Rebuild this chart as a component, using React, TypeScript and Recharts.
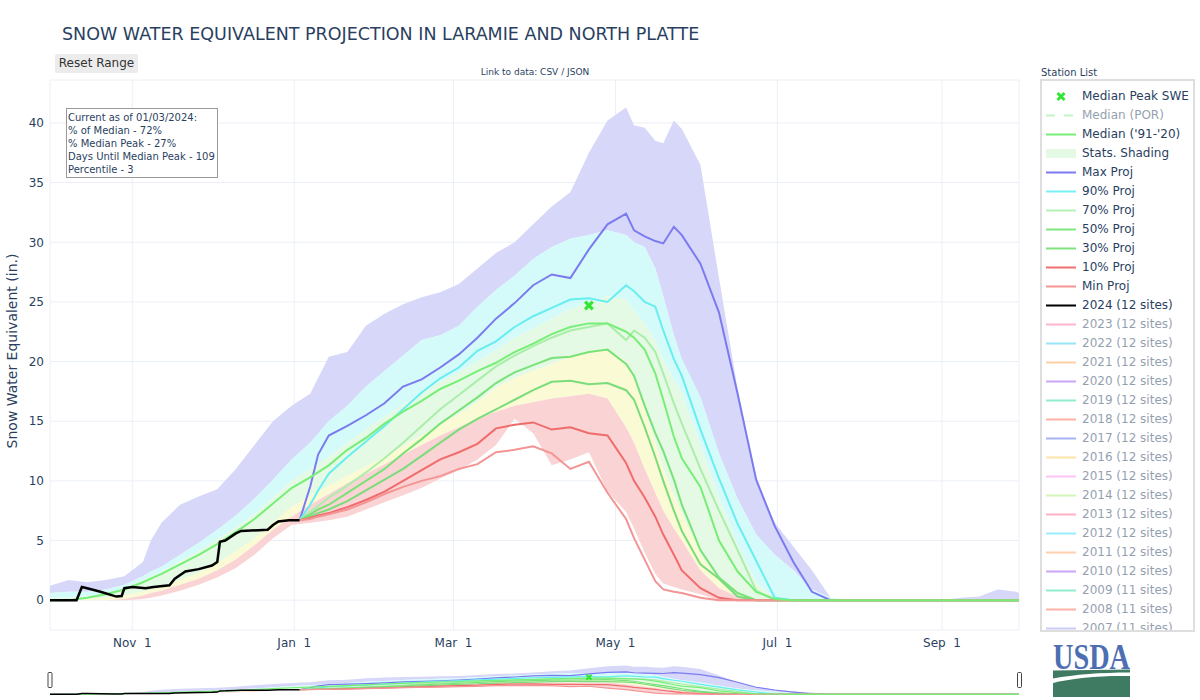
import React from 'react';
import { ComposedChart, Area, Line, Scatter, XAxis, YAxis, CartesianGrid } from 'recharts';

const FONT = '"DejaVu Sans", Verdana, sans-serif';
const INK = '#2a3f5f';

// x = days since Oct 1, 2023 (water year 2024)
const tickDays = [31, 92, 152, 213, 274, 336];
const tickLabels = ['Nov \u00a01', 'Jan \u00a01', 'Mar \u00a01', 'May \u00a01', 'Jul \u00a01', 'Sep \u00a01'];
const sweTicks = [0, 5, 10, 15, 20, 25, 30, 35, 40];

// historical stats (in.), roughly weekly
const statDays = [0, 7, 14, 21, 28, 35, 38, 42, 49, 56, 63, 70, 77, 84, 91, 98, 105, 112, 119, 126, 133, 140, 147, 154, 161, 168, 175, 182, 189, 196, 203, 210, 217, 220, 224, 228, 231, 235, 238, 245, 252, 259, 266, 273, 280, 287, 294, 301, 308, 315, 322, 329, 336, 343, 350, 357, 364, 365];
const statMax = [1.2, 1.7, 1.5, 1.7, 2.0, 3.2, 5.0, 6.5, 8.0, 8.7, 9.3, 11.0, 13.0, 15.0, 16.3, 17.3, 20.4, 20.8, 23.0, 24.0, 24.8, 25.4, 25.8, 26.5, 27.8, 29.1, 30.0, 31.5, 33.0, 34.2, 37.5, 40.2, 41.3, 39.8, 39.6, 38.5, 38.3, 40.2, 39.5, 36.5, 27.0, 17.7, 10.1, 6.5, 4.5, 2.5, 0.2, 0, 0, 0, 0, 0, 0, 0.2, 0.3, 0.9, 0.7, 0.6];
const stat90 = [0.6, 0.7, 0.7, 0.9, 1.3, 2.0, 2.4, 2.8, 3.8, 4.8, 5.9, 7.1, 8.5, 10.1, 11.8, 13.2, 15.0, 16.3, 17.9, 19.2, 20.5, 21.8, 22.2, 23.0, 24.6, 26.0, 27.2, 28.6, 29.6, 30.3, 30.6, 31.0, 30.6, 30.0, 29.6, 27.8, 25.5, 22.2, 20.2, 17.0, 12.3, 8.5, 5.5, 3.8, 2.5, 0.9, 0.2, 0, 0, 0, 0, 0, 0, 0, 0, 0, 0, 0];
const stat70 = [0.2, 0.2, 0.3, 0.5, 1.0, 1.7, 2.0, 2.4, 3.3, 4.1, 5.1, 6.1, 7.2, 8.6, 10.0, 11.0, 12.0, 13.2, 14.3, 15.4, 16.4, 17.4, 18.3, 19.1, 20.0, 21.0, 22.0, 22.8, 23.6, 24.4, 24.9, 25.5, 25.2, 24.3, 23.2, 21.8, 20.2, 18.5, 17.3, 13.0, 8.6, 4.6, 1.5, 0.2, 0, 0, 0, 0, 0, 0, 0, 0, 0, 0, 0, 0, 0, 0];
const stat30 = [0, 0, 0.1, 0.2, 0.4, 0.7, 0.9, 1.1, 1.7, 2.3, 3.1, 4.1, 5.2, 6.5, 7.8, 8.7, 9.6, 10.4, 11.2, 12.0, 12.9, 13.8, 14.7, 15.6, 16.6, 17.8, 18.6, 19.2, 19.8, 20.4, 20.9, 21.1, 20.0, 18.5, 16.0, 13.2, 11.0, 8.8, 7.3, 3.8, 1.6, 0.3, 0, 0, 0, 0, 0, 0, 0, 0, 0, 0, 0, 0, 0, 0, 0, 0];
const stat10 = [0, 0, 0, 0, 0.1, 0.4, 0.6, 0.8, 1.3, 1.8, 2.5, 3.4, 4.6, 5.9, 7.0, 8.0, 8.9, 9.8, 10.6, 11.4, 12.2, 13.0, 13.8, 14.5, 15.2, 15.8, 16.3, 16.6, 16.9, 17.1, 17.3, 16.9, 14.5, 13.2, 11.0, 9.0, 7.5, 6.0, 5.0, 2.5, 1.0, 0.3, 0, 0, 0, 0, 0, 0, 0, 0, 0, 0, 0, 0, 0, 0, 0, 0];
const statMin = [0, 0, 0, 0, 0, 0.1, 0.2, 0.4, 0.8, 1.3, 1.9, 2.7, 3.8, 5.2, 6.3, 6.5, 6.7, 7.0, 7.6, 8.2, 8.8, 9.4, 10.2, 10.9, 11.8, 13.0, 15.2, 14.0, 11.3, 11.8, 12.4, 9.1, 7.4, 6.0, 4.0, 2.2, 1.4, 1.1, 0.9, 0.5, 0, 0, 0, 0, 0, 0, 0, 0, 0, 0, 0, 0, 0, 0, 0, 0, 0, 0];
const median9120 = [0, 0, 0.2, 0.5, 0.9, 1.5, 1.8, 2.2, 3.0, 3.8, 4.7, 5.7, 6.8, 8.1, 9.4, 10.3, 11.3, 12.6, 13.6, 14.8, 15.8, 16.7, 17.7, 18.4, 19.2, 19.9, 20.8, 21.5, 22.3, 22.9, 23.2, 23.2, 22.5, 22.0, 21.0, 19.0, 16.8, 13.7, 11.9, 9.5, 5.0, 2.4, 0.7, 0.1, 0, 0, 0, 0, 0, 0, 0, 0, 0, 0, 0, 0, 0, 0];

// projections from Jan 3
const projDays = [94, 98, 101, 105, 112, 119, 126, 133, 140, 147, 154, 161, 168, 175, 182, 189, 196, 203, 210, 217, 220, 224, 228, 231, 235, 238, 245, 252, 259, 266, 273, 280, 287, 294, 365];
const projMax = [6.7, 9.5, 12.2, 13.8, 14.6, 15.5, 16.5, 17.9, 18.5, 19.5, 20.6, 22.0, 23.6, 24.9, 26.4, 27.3, 27.0, 29.4, 31.5, 32.4, 31.0, 30.5, 30.1, 29.9, 31.3, 30.6, 28.2, 24.1, 17.3, 10.1, 6.2, 3.2, 0.7, 0, 0];
const proj90 = [6.7, 8.0, 9.2, 10.6, 12.0, 13.3, 14.6, 16.0, 17.4, 18.6, 19.5, 20.9, 21.7, 22.9, 23.8, 24.5, 25.2, 25.3, 25.0, 26.4, 25.9, 25.0, 24.6, 22.6, 20.2, 18.8, 14.3, 10.2, 6.4, 3.3, 0.2, 0, 0, 0, 0];
const proj70 = [6.7, 7.4, 7.9, 8.6, 9.6, 10.7, 11.9, 13.2, 14.6, 16.0, 17.2, 18.4, 19.6, 20.5, 21.3, 22.0, 22.6, 22.9, 23.2, 21.8, 22.6, 22.0, 20.8, 19.0, 16.5, 14.8, 11.0, 7.5, 4.2, 0.8, 0, 0, 0, 0, 0];
const proj50 = [6.7, 7.2, 7.6, 8.0, 9.0, 10.0, 11.0, 12.3, 13.5, 14.8, 15.9, 17.0, 18.2, 19.1, 19.7, 20.3, 20.4, 20.8, 21.0, 19.8, 18.8, 16.3, 14.0, 12.5, 10.1, 8.0, 4.2, 1.9, 0.6, 0, 0, 0, 0, 0, 0];
const proj30 = [6.7, 7.0, 7.3, 7.6, 8.3, 9.2, 10.1, 11.0, 12.1, 13.2, 14.3, 15.2, 16.0, 16.8, 17.6, 18.3, 18.4, 18.1, 18.2, 17.6, 16.8, 14.5, 12.0, 10.0, 7.5, 5.8, 3.0, 1.8, 0.3, 0, 0, 0, 0, 0, 0];
const proj10 = [6.7, 6.9, 7.1, 7.3, 7.8, 8.4, 9.1, 10.0, 10.9, 11.8, 12.4, 13.1, 14.4, 14.7, 14.9, 14.3, 14.5, 14.0, 13.8, 11.5, 10.0, 8.6, 7.0, 5.5, 3.8, 2.5, 1.0, 0.2, 0, 0, 0, 0, 0, 0, 0];
const projMin = [6.7, 6.8, 7.0, 7.2, 7.6, 8.2, 8.9, 9.5, 10.0, 10.4, 11.0, 11.4, 12.4, 12.6, 12.9, 12.3, 11.0, 11.6, 9.0, 6.8, 5.2, 3.4, 1.6, 0.9, 0.7, 0.6, 0.2, 0, 0, 0, 0, 0, 0, 0, 0];

// observed WY2024 (12 sites)
const obsDays = [0, 10, 12, 14, 19, 25, 27, 28, 31, 36, 39, 45, 47, 51, 56, 61, 63, 64, 66, 70, 72, 82, 84, 86, 90, 94];
const obs2024 = [0, 0, 1.1, 1.0, 0.7, 0.3, 0.35, 1.0, 1.1, 1.0, 1.1, 1.25, 1.8, 2.4, 2.6, 2.9, 3.2, 4.9, 5.0, 5.6, 5.8, 5.9, 6.3, 6.6, 6.7, 6.7];

const medianPeakDay = 203;
const medianPeakSwe = 24.7;

const annotationLines = ['Current as of 01/03/2024:', '% of Median - 72%', '% Median Peak - 27%', 'Days Until Median Peak - 109', 'Percentile - 3'];

const legendItems = [
  { name: 'Median Peak SWE', color: '#33e633', kind: 'x', hidden: false },
  { name: 'Median (POR)', color: '#88ee88', kind: 'dash', hidden: true },
  { name: "Median ('91-'20)", color: '#77ee77', kind: 'line', hidden: false },
  { name: 'Stats. Shading', color: '#e4fae4', kind: 'band', hidden: false },
  { name: 'Max Proj', color: '#7b7bef', kind: 'line', hidden: false },
  { name: '90% Proj', color: '#77f0f2', kind: 'line', hidden: false },
  { name: '70% Proj', color: '#b5f0b5', kind: 'line', hidden: false },
  { name: '50% Proj', color: '#7fe67f', kind: 'line', hidden: false },
  { name: '30% Proj', color: '#7fe27f', kind: 'line', hidden: false },
  { name: '10% Proj', color: '#f07070', kind: 'line', hidden: false },
  { name: 'Min Proj', color: '#f49494', kind: 'line', hidden: false },
  { name: '2024 (12 sites)', color: '#000000', kind: 'line', hidden: false },
  { name: '2023 (12 sites)', color: '#ff6f9f', kind: 'line', hidden: true },
  { name: '2022 (12 sites)', color: '#33ccee', kind: 'line', hidden: true },
  { name: '2021 (12 sites)', color: '#ffa050', kind: 'line', hidden: true },
  { name: '2020 (12 sites)', color: '#9b4ff0', kind: 'line', hidden: true },
  { name: '2019 (12 sites)', color: '#22dd99', kind: 'line', hidden: true },
  { name: '2018 (12 sites)', color: '#ff6650', kind: 'line', hidden: true },
  { name: '2017 (12 sites)', color: '#5566ee', kind: 'line', hidden: true },
  { name: '2016 (12 sites)', color: '#ffcc55', kind: 'line', hidden: true },
  { name: '2015 (12 sites)', color: '#ff88ee', kind: 'line', hidden: true },
  { name: '2014 (12 sites)', color: '#aaee77', kind: 'line', hidden: true },
  { name: '2013 (12 sites)', color: '#ff6688', kind: 'line', hidden: true },
  { name: '2012 (12 sites)', color: '#33ddff', kind: 'line', hidden: true },
  { name: '2011 (12 sites)', color: '#ffa060', kind: 'line', hidden: true },
  { name: '2010 (12 sites)', color: '#9b4ff0', kind: 'line', hidden: true },
  { name: '2009 (11 sites)', color: '#22dd99', kind: 'line', hidden: true },
  { name: '2008 (11 sites)', color: '#ff6650', kind: 'line', hidden: true },
  { name: '2007 (11 sites)', color: '#9999ee', kind: 'line', hidden: true },
];

const statRows = statDays.map((day, i) => ({
  day,
  max: statMax[i],
  p90: stat90[i],
  p70: stat70[i],
  p30: stat30[i],
  p10: stat10[i],
  min: statMin[i],
  median: median9120[i],
}));
const projRows = projDays.map((day, i) => ({
  day,
  max: projMax[i],
  p90: proj90[i],
  p70: proj70[i],
  p50: proj50[i],
  p30: proj30[i],
  p10: proj10[i],
  min: projMin[i],
}));
const obsRows = obsDays.map((day, i) => ({ day, swe: obs2024[i] }));
const peakRows = [{ day: medianPeakDay, swe: medianPeakSwe }];

const fmtDay = (v: number) => tickLabels[tickDays.indexOf(v)] ?? '';

const xMark = (h: number) => (p: any) => {
  const { cx, cy } = p;
  if (cx == null || cy == null) return <g />;
  return (
    <g stroke="#33e633" strokeWidth={h * 0.85}>
      <line x1={cx - h} y1={cy - h} x2={cx + h} y2={cy + h} />
      <line x1={cx - h} y1={cy + h} x2={cx + h} y2={cy - h} />
    </g>
  );
};

function series(mini: boolean) {
  const w = mini ? 1.2 : 2;
  const band = (key: string, lo: string, hi: string, fill: string) => (
    <Area
      key={key}
      dataKey={(r: any) => [r[lo], r[hi]]}
      type="linear"
      stroke="none"
      fill={fill}
      fillOpacity={1}
      dot={false}
      activeDot={false}
      isAnimationActive={false}
    />
  );
  const proj = (key: string, color: string) => (
    <Line
      key={'p' + key}
      data={projRows}
      dataKey={key}
      type="linear"
      stroke={color}
      strokeWidth={w}
      dot={false}
      activeDot={false}
      isAnimationActive={false}
    />
  );
  return [
    band('b1', 'p90', 'max', '#d7d7fa'),
    band('b2', 'p70', 'p90', '#d4fafa'),
    band('b3', 'p30', 'p70', '#e4fae4'),
    band('b4', 'p10', 'p30', '#fafad4'),
    band('b5', 'min', 'p10', '#fad4d4'),
    proj('max', '#7b7bef'),
    proj('p90', '#66eef0'),
    proj('p70', '#aaeeaa'),
    proj('p50', '#77e277'),
    proj('p30', '#7bdc7b'),
    proj('p10', '#f06c6c'),
    proj('min', '#f49494'),
    <Line
      key="median"
      dataKey="median"
      type="linear"
      stroke="#77ee77"
      strokeWidth={w}
      dot={false}
      activeDot={false}
      isAnimationActive={false}
    />,
    <Line
      key="obs"
      data={obsRows}
      dataKey="swe"
      type="linear"
      stroke="#000000"
      strokeWidth={mini ? 1.5 : 2.5}
      dot={false}
      activeDot={false}
      isAnimationActive={false}
    />,
    <Scatter
      key="peak"
      data={peakRows}
      dataKey="swe"
      shape={xMark(mini ? 2.5 : 3.8)}
      isAnimationActive={false}
    />,
  ];
}

function LegendSymbol({ item }: { item: any }) {
  return (
    <svg width={30} height={19} style={{ display: 'block', flex: 'none' }}>
      {item.kind === 'x' && (
        <g stroke={item.color} strokeWidth={3}>
          <line x1={11.5} y1={6} x2={18.5} y2={13} />
          <line x1={11.5} y1={13} x2={18.5} y2={6} />
        </g>
      )}
      {item.kind === 'dash' && (
        <line x1={0} y1={9.5} x2={30} y2={9.5} stroke={item.color} strokeWidth={2} strokeDasharray="9 9" />
      )}
      {item.kind === 'band' && <rect x={0} y={5} width={30} height={9} fill={item.color} />}
      {item.kind === 'line' && <line x1={0} y1={9.5} x2={30} y2={9.5} stroke={item.color} strokeWidth={2} />}
    </svg>
  );
}

export default function App() {
  return (
    <div
      style={{
        position: 'absolute',
        left: 0,
        top: 0,
        width: 1200,
        height: 700,
        background: '#fff',
        overflow: 'hidden',
        fontFamily: FONT,
      }}
    >
      <div style={{ position: 'absolute', left: 0, top: 0 }}>
        <ComposedChart width={1030} height={660} data={statRows} margin={{ top: 80, right: 11, bottom: 0, left: 0 }}>
          <CartesianGrid stroke="#ebeff6" />
          <XAxis
            dataKey="day"
            type="number"
            domain={[0, 365]}
            ticks={tickDays}
            interval={0}
            tickFormatter={fmtDay}
            allowDataOverflow
            axisLine={false}
            tickLine={false}
            tickSize={0}
            tickMargin={8}
            height={30}
            tick={{ fill: INK, fontSize: 12, fontFamily: FONT }}
          />
          <YAxis
            type="number"
            domain={[-2.5, 43.6]}
            ticks={sweTicks}
            interval={0}
            allowDataOverflow
            axisLine={false}
            tickLine={false}
            tickSize={0}
            tickMargin={6}
            width={50}
            tick={{ fill: INK, fontSize: 12, fontFamily: FONT }}
          />
          {series(false)}
        </ComposedChart>
      </div>

      <div style={{ position: 'absolute', left: 0, top: 664 }}>
        <ComposedChart width={1030} height={31} data={statRows} margin={{ top: 0, right: 11, bottom: 0, left: 50 }}>
          <XAxis dataKey="day" type="number" domain={[0, 365]} hide allowDataOverflow />
          <YAxis type="number" domain={[-1, 43.6]} hide allowDataOverflow />
          {series(true)}
        </ComposedChart>
      </div>

      <svg
        width={1200}
        height={700}
        style={{ position: 'absolute', left: 0, top: 0, pointerEvents: 'none' }}
        fontFamily={FONT}
      >
        <text x={62} y={40} fontSize={17.5} fill={INK}>
          SNOW WATER EQUIVALENT PROJECTION IN LARAMIE AND NORTH PLATTE
        </text>
        <text x={535} y={75} fontSize={9} fill={INK} textAnchor="middle">
          Link to data: CSV / JSON
        </text>
        <text
          transform="translate(12,351) rotate(-90)"
          fontSize={14}
          fill={INK}
          textAnchor="middle"
          dominantBaseline="central"
        >
          Snow Water Equivalent (in.)
        </text>
        <rect x={66.5} y={108.5} width={151} height={69} fill="#fff" stroke="#999" strokeWidth={1} />
        {annotationLines.map((t, i) => (
          <text key={t} x={68} y={121 + i * 13} fontSize={10} fill={INK}>
            {t}
          </text>
        ))}
        <text x={1041} y={76} fontSize={10} fill={INK}>
          Station List
        </text>
        <rect x={48} y={672.5} width={4} height={15} fill="#fff" stroke="#444" strokeWidth={1} rx={1} />
        <rect x={1017.5} y={672.5} width={4} height={15} fill="#fff" stroke="#444" strokeWidth={1} rx={1} />
        <text
          x={1053}
          y={669}
          fontSize={36}
          fontWeight="bold"
          fontFamily='"Liberation Serif", serif'
          fill="#4d6eb0"
          textLength={77}
          lengthAdjust="spacingAndGlyphs"
        >
          USDA
        </text>
        <path d="M1053,670.5 L1130,669.5 L1130,672.5 C1100,672.5 1075,674.5 1053,678.5 Z" fill="#3f7a63" />
        <path d="M1053,683 C1075,677.5 1100,675.5 1130,676 L1130,697 L1053,697 Z" fill="#3f7a63" />
      </svg>

      <div
        style={{
          position: 'absolute',
          left: 55,
          top: 54,
          width: 83,
          height: 19,
          background: '#ececec',
          borderRadius: 2,
          fontSize: 12,
          lineHeight: '19px',
          textAlign: 'center',
          color: '#333',
        }}
      >
        Reset Range
      </div>

      <div
        style={{
          position: 'absolute',
          left: 1040,
          top: 79,
          width: 155,
          height: 553,
          boxSizing: 'border-box',
          border: '2px solid #dedede',
          overflow: 'hidden',
          paddingTop: 5.5,
          background: '#fff',
        }}
      >
        {legendItems.map((item) => (
          <div
            key={item.name}
            style={{
              display: 'flex',
              alignItems: 'center',
              height: 19,
              paddingLeft: 4,
              opacity: item.hidden ? 0.5 : 1,
            }}
          >
            <LegendSymbol item={item} />
            <span style={{ marginLeft: 6, fontSize: 12, color: INK, whiteSpace: 'nowrap' }}>{item.name}</span>
          </div>
        ))}
      </div>
    </div>
  );
}
